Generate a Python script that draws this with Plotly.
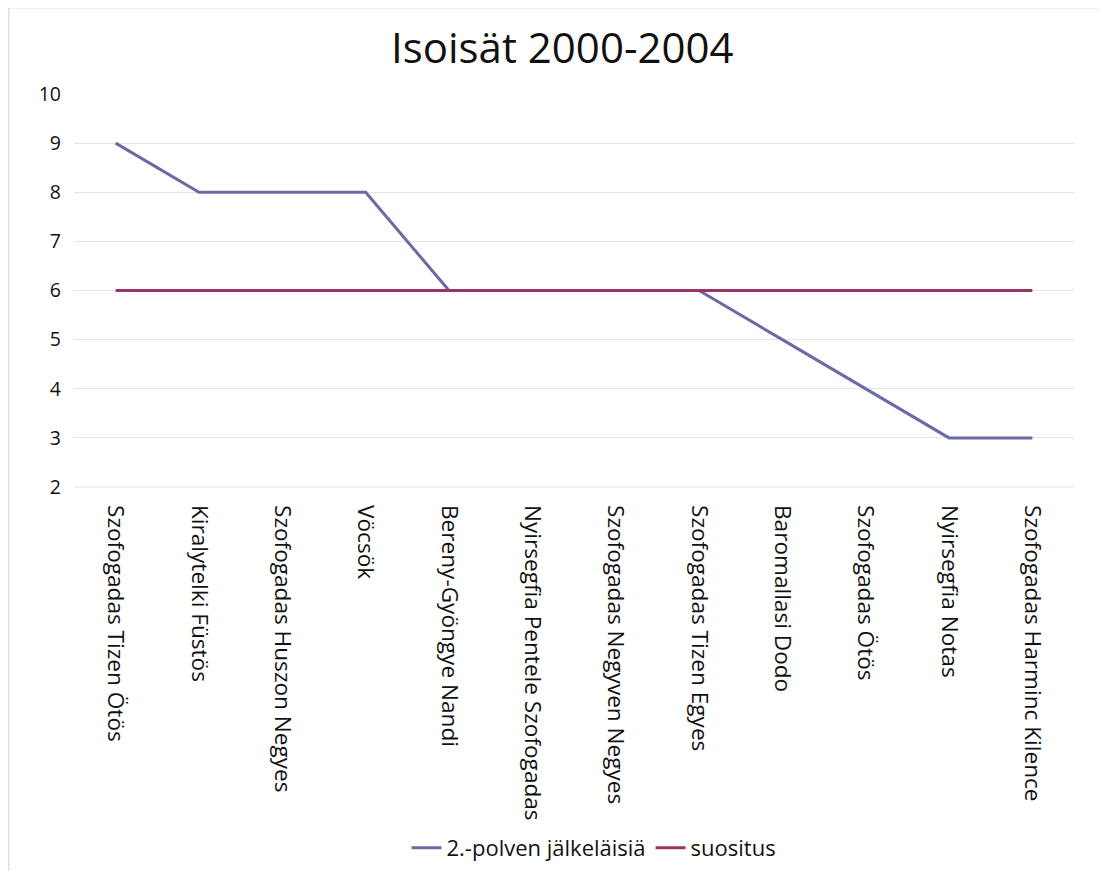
import plotly.graph_objects as go

categories = ["Szofogadas Tizen Ötös", "Kiralytelki Füstös", "Szofogadas Huszon Negyes",
              "Vöcsök", "Bereny-Gyöngye Nandi", "Nyirsegfia Pentele Szofogadas",
              "Szofogadas Negyven Negyes", "Szofogadas Tizen Egyes", "Baromallasi Dodo",
              "Szofogadas Ötös", "Nyirsegfia Notas", "Szofogadas Harminc Kilence"]
jalkelaisia = [9, 8, 8, 8, 6, 6, 6, 6, 5, 4, 3, 3]
suositus = [6, 6, 6, 6, 6, 6, 6, 6, 6, 6, 6, 6]

fig = go.Figure()
fig.add_trace(go.Scatter(x=categories, y=jalkelaisia, mode="lines", name="2.-polven jälkeläisiä",
                         line=dict(color="#6A6AA6", width=3)))
fig.add_trace(go.Scatter(x=categories, y=suositus, mode="lines", name="suositus",
                         line=dict(color="#9A3366", width=3)))

fig.update_layout(
    width=1091, height=863,
    paper_bgcolor="white", plot_bgcolor="white",
    margin=dict(l=66, r=25, t=86, b=384, autoexpand=False),
    title=dict(text="Isoisät 2000-2004", x=0.508, xanchor="center", y=1 - 40 / 863, yanchor="middle",
               font=dict(family="Open Sans, sans-serif", size=42, color="#111111")),
    xaxis=dict(type="category", range=[-0.5, 11.5], tickangle=90, showgrid=False,
               showline=False, ticks="", ticklabelstandoff=17,
               tickfont=dict(family="Open Sans, sans-serif", size=22.6, color="#111111")),
    yaxis=dict(range=[2, 10], dtick=1, showgrid=True, gridcolor="#E4E4E4", gridwidth=1,
               zeroline=False, showline=False, ticks="", ticklabelstandoff=12,
               tickfont=dict(family="Open Sans, sans-serif", size=19.5, color="#111111")),
    legend=dict(orientation="h", x=0.52, xanchor="center", yref="container", y=1 - 840 / 863,
                yanchor="middle",
                font=dict(family="Open Sans, sans-serif", size=22, color="#111111")),
    showlegend=True,
)
fig.add_shape(type="line", xref="paper", yref="paper", x0=0, x1=1, y0=0, y1=0,
              line=dict(color="#E4E4E4", width=1))
fig.add_shape(type="line", xref="paper", yref="paper", x0=-0.0655, x1=1.03, y0=86.5 / 393 + 1, y1=86.5 / 393 + 1,
              line=dict(color="#E0E0E0", width=2))
fig.add_shape(type="line", xref="paper", yref="paper", x0=-0.0655, x1=-0.0655, y0=86.5 / 393 + 1, y1=-1.0,
              line=dict(color="#E0E0E0", width=2))
fig.write_html("out.html")
